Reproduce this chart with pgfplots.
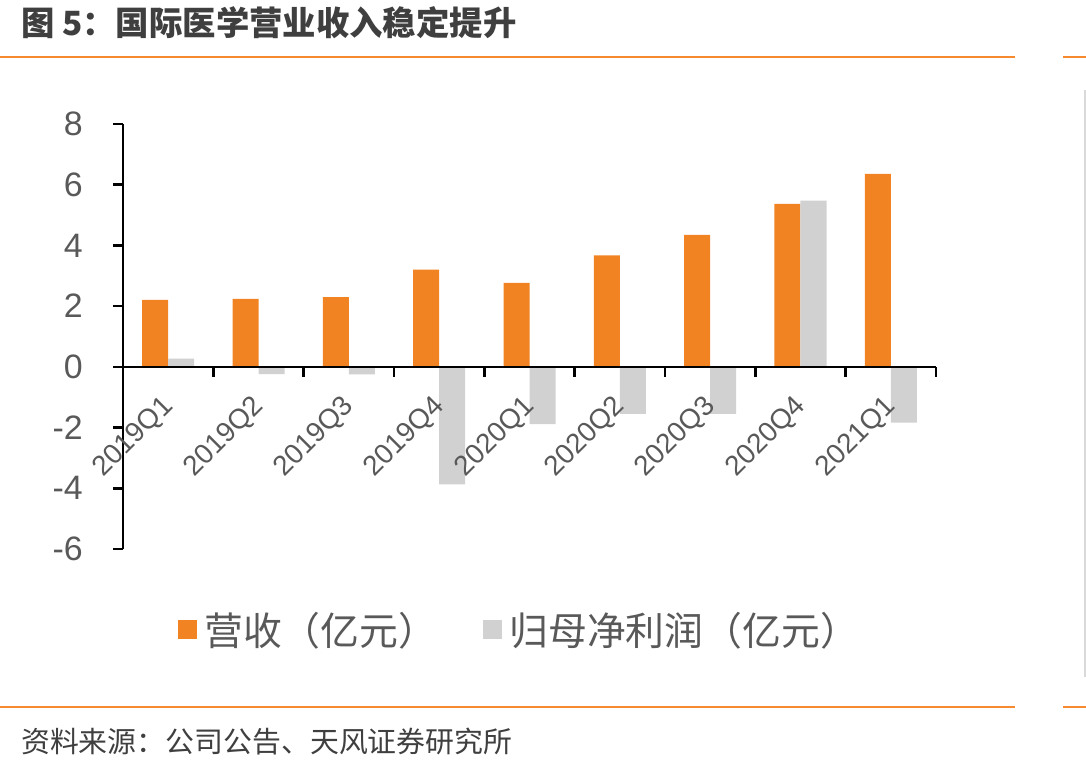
\documentclass[border=0pt]{standalone}
\usepackage{pgfplots}
\pgfplotsset{compat=1.18}
\usepackage{fontspec}
\setmainfont{Liberation Sans}
\newfontfamily\cjk{Noto Sans CJK SC}
\definecolor{barorange}{HTML}{F28322}
\definecolor{bargray}{HTML}{D1D1D1}
\definecolor{txtgray}{HTML}{595959}
\definecolor{lineorange}{HTML}{F58A2E}
\definecolor{titlegray}{HTML}{3F3F3F}
\begin{document}
\begin{tikzpicture}
\path[use as bounding box, fill=white] (0,0) rectangle (1086bp,-771bp);
% title and source
\node[anchor=west, inner sep=0pt, text=titlegray] at (21bp,-23bp) {\cjk\bfseries\fontsize{33.5}{36}\selectfont 图 5：国际医学营业收入稳定提升};
\draw[lineorange, line width=2.5bp] (0,-57bp) -- (1015bp,-57bp);
\draw[lineorange, line width=2.5bp] (1063bp,-57bp) -- (1086bp,-57bp);
\draw[lineorange, line width=2.5bp] (0,-707bp) -- (1015bp,-707bp);
\draw[lineorange, line width=2.5bp] (1063bp,-707bp) -- (1086bp,-707bp);
\draw[black!15, line width=2.5bp] (1085bp,-90bp) -- (1085bp,-677bp);
\node[anchor=west, inner sep=0pt, text=titlegray] at (21bp,-742bp) {\cjk\fontsize{29}{32}\selectfont 资料来源：公司公告、天风证券研究所};
\begin{axis}[
  at={(123bp,-549bp)}, anchor=south west,
  scale only axis, width=813bp, height=425bp,
  xmin=-0.5, xmax=8.5, ymin=-6, ymax=8,
  axis y line=left, axis x line=middle,
  axis line style={-, line width=2.5bp, black},
  every inner x axis line/.append style={-},
  every outer y axis line/.append style={-},
  axis on top=true,
  ybar=0pt, bar width=26bp,
  xtick={-0.5,0.5,...,8.5}, xticklabels={},
  extra x ticks={0,1,2,3,4,5,6,7,8},
  extra x tick labels={2019Q1,2019Q2,2019Q3,2019Q4,2020Q1,2020Q2,2020Q3,2020Q4,2021Q1},
  extra x tick style={major tick length=0pt, grid=none,
     xticklabel style={xshift=1bp, yshift=-35bp, rotate=45, anchor=east, inner sep=0pt, font=\fontsize{28}{30}\selectfont, text=txtgray}},
  ytick={-6,-4,-2,0,2,4,6,8},
  yticklabels={-6,-4,-2,0,2,4,6,8},
  yticklabel style={font=\fontsize{34}{38}\selectfont, text=txtgray, inner sep=0pt, anchor=east, xshift=-30bp},
  major tick length=10bp,
  tick align=outside,
  tick style={line width=2.5bp, black},
  legend style={at={(axis description cs:0.0677,-0.19)}, anchor=west, draw=none, fill=none, inner sep=0pt,
     font=\cjk\fontsize{39}{42}\selectfont, text=txtgray, legend columns=2,
     /tikz/every odd column/.append style={column sep=5bp},
     /tikz/every even column/.append style={column sep=44bp}},
  legend image code/.code={\path[#1, draw=none] (0bp,-9.5bp) rectangle (19bp,9.5bp);},
]
\addplot[fill=barorange, draw=none] coordinates {(0,2.21) (1,2.24) (2,2.30) (3,3.20) (4,2.77) (5,3.67) (6,4.35) (7,5.37) (8,6.36)};
\addplot[fill=bargray, draw=none] coordinates {(0,0.27) (1,-0.24) (2,-0.25) (3,-3.87) (4,-1.89) (5,-1.55) (6,-1.55) (7,5.48) (8,-1.84)};
\legend{营收（亿元）,归母净利润（亿元）}
\end{axis}
\end{tikzpicture}
\end{document}
